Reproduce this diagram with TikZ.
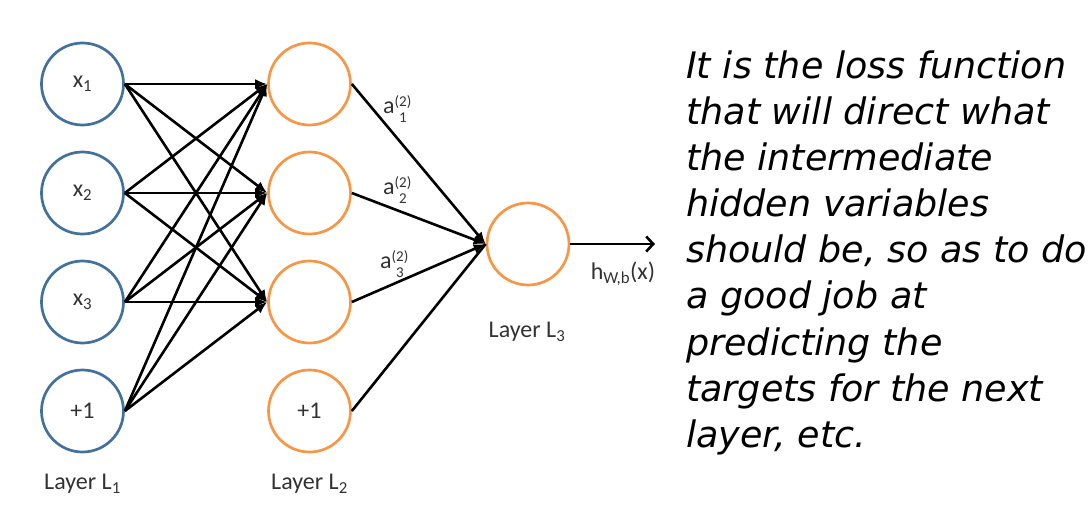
\documentclass[tikz,border=0pt]{standalone}
\usepackage{fontspec}
\setmainfont{Carlito}
\newfontfamily\notefont{DejaVu Sans}
\usetikzlibrary{arrows.meta}
\definecolor{inblue}{RGB}{65,113,156}
\definecolor{hidorange}{RGB}{247,150,70}
\definecolor{labgray}{RGB}{50,50,50}
\newcommand\actlab[1]{a\rlap{\raisebox{7pt}{\fontsize{15}{15}\selectfont(2)}}\raisebox{-9pt}{\fontsize{15}{15}\selectfont\hspace{4.5pt}#1}\hspace{4pt}}
\tikzset{
  unit/.style={circle, line width=2.7pt, minimum size=82pt, inner sep=0pt,
     font=\fontsize{24}{24}\selectfont, text=labgray},
  inunit/.style={unit, draw=inblue},
  hidunit/.style={unit, draw=hidorange},
  lab/.style={font=\fontsize{24}{24}\selectfont, text=labgray, inner sep=0pt},
  conn/.style={line width=2.6pt, -{Latex[length=12pt,width=10pt]}},
  plain/.style={line width=2.6pt},
}
\begin{document}
\begin{tikzpicture}[x=1pt,y=-1pt]
\useasboundingbox (0,0) rectangle (1092,511);
% layer 1
\node[inunit] (i1) at (82.5,84) {x\textsubscript{1}};
\node[inunit] (i2) at (82.5,193) {x\textsubscript{2}};
\node[inunit] (i3) at (82.5,302) {x\textsubscript{3}};
\node[inunit] (i4) at (82.5,411) {+1};
% layer 2
\node[hidunit] (h1) at (309.5,84) {};
\node[hidunit] (h2) at (309.5,193) {};
\node[hidunit] (h3) at (309.5,302) {};
\node[hidunit] (h4) at (309.5,411) {+1};
% layer 3
\node[hidunit] (o) at (528,244) {};
\coordinate (out) at (655,244);
% connections
\foreach \s in {i1,i2,i3,i4}{
  \foreach \t in {h1,h2,h3}{
    \draw[conn] (\s.east) -- (\t.west);
  }
}
\foreach \s in {h1,h2,h3}{
  \draw[conn] (\s.east) -- (o.west);
}
\draw[plain] (h4.east) -- (o.west);
\draw[line width=2.6pt, -{Straight Barb[length=7pt,width=15pt]}] (o.east) -- (out);
% labels
\node[lab] (a1) at (395,109) {\actlab{1}};
\node[lab] (a2) at (395,190) {\actlab{2}};
\node[lab] (a3) at (392,264) {\actlab{3}};
\node[lab] (hx) at (623,274) {h\textsubscript{W,b}(x)};
\node[lab] (l1) at (82.5,484) {Layer L\textsubscript{1}};
\node[lab] (l2) at (309.5,484) {Layer L\textsubscript{2}};
\node[lab] (l3) at (527,332) {Layer L\textsubscript{3}};
% note
\node[anchor=north west, inner sep=0pt, align=left,
      font=\notefont\itshape\fontsize{36.5}{46.1}\selectfont] (note) at (686,50.5)
  {It is the loss function\\that will direct what\\the intermediate\\hidden variables\\should be, so as to do\\a good job at\\predicting the\\targets for the next\\layer, etc.};
\end{tikzpicture}
\end{document}
